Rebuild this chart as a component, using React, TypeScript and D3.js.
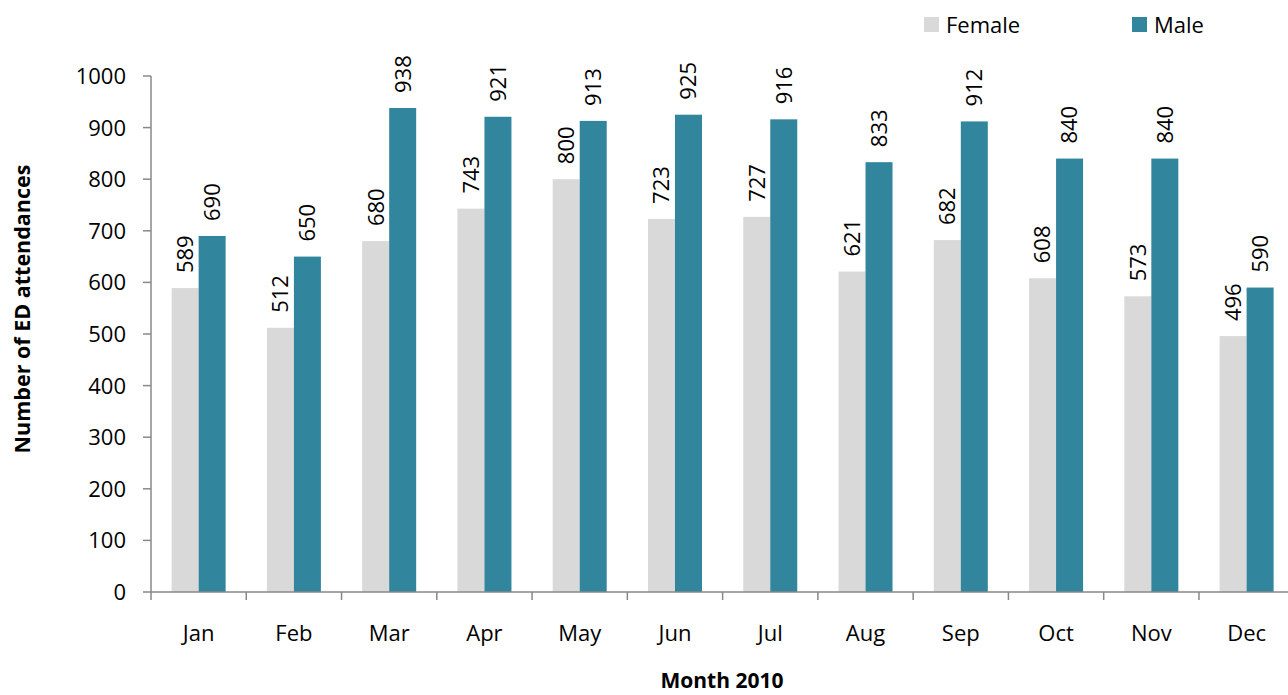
import React from "react";
import * as d3 from "d3";

const months = ["Jan", "Feb", "Mar", "Apr", "May", "Jun", "Jul", "Aug", "Sep", "Oct", "Nov", "Dec"];
const female = [589, 512, 680, 743, 800, 723, 727, 621, 682, 608, 573, 496];
const male = [690, 650, 938, 921, 913, 925, 916, 833, 912, 840, 840, 590];
const seriesNames = ["Female", "Male"];
const seriesColors = ["#D9D9D9", "#31859C"];
const yTicks = [0, 100, 200, 300, 400, 500, 600, 700, 800, 900, 1000];

const W = 1288;
const H = 695;
const left = 151;
const bandW = 95.27;
const top = 76;
const bottom = 592;
const FONT = "'Open Sans', sans-serif";

export default function App() {
  const x = d3.scaleBand<string>().domain(months).range([left, left + bandW * months.length]).padding(0);
  const bw = x.bandwidth();
  const inner = d3.scaleBand<string>().domain(seriesNames).range([bw / 2 - 27, bw / 2 + 27]).padding(0);
  const y = d3.scaleLinear().domain([0, 1000]).range([bottom, top]);
  const data = [female, male];
  const axisColor = "#888888";

  return (
    <div style={{ position: "absolute", left: 0, top: 0 }}>
      <svg width={W} height={H} style={{ display: "block", fontFamily: FONT }}>
        <rect x={0} y={0} width={W} height={H} fill="#ffffff" />
        {/* bars */}
        {seriesNames.map((s, si) =>
          months.map((m, i) => {
            const v = data[si][i];
            const bx = (x(m) as number) + (inner(s) as number);
            return (
              <rect key={s + m} x={bx} y={y(v)} width={inner.bandwidth()} height={bottom - y(v)} fill={seriesColors[si]} />
            );
          })
        )}
        {/* data labels */}
        {seriesNames.map((s, si) =>
          months.map((m, i) => {
            const v = data[si][i];
            const cx = (x(m) as number) + (inner(s) as number) + inner.bandwidth() / 2;
            const ty = y(v) - 15;
            return (
              <text
                key={"l" + s + m}
                transform={`translate(${cx},${ty}) rotate(-90)`}
                dy="0.36em"
                fontSize={22}
                fill="#000"
              >
                {v}
              </text>
            );
          })
        )}
        {/* y axis */}
        <line x1={left} x2={left} y1={top} y2={bottom} stroke={axisColor} strokeWidth={1.5} />
        {yTicks.map((t) => (
          <g key={"yt" + t}>
            <line x1={left - 8} x2={left} y1={y(t)} y2={y(t)} stroke={axisColor} strokeWidth={1.5} />
            <text x={126} y={y(t)} dy="0.36em" textAnchor="end" fontSize={22} fill="#000">
              {t}
            </text>
          </g>
        ))}
        {/* x axis */}
        <line x1={left} x2={W + 10} y1={bottom} y2={bottom} stroke={axisColor} strokeWidth={1.5} />
        {months.map((m) => (
          <g key={"xt" + m}>
            <line x1={x(m) as number} x2={x(m) as number} y1={bottom} y2={bottom + 8} stroke={axisColor} strokeWidth={1.5} />
            <text x={(x(m) as number) + bw / 2} y={641} textAnchor="middle" fontSize={22} fill="#000">
              {m}
            </text>
          </g>
        ))}
        {/* axis titles */}
        <text x={722} y={688} textAnchor="middle" fontSize={21} fontWeight="bold" fill="#000">
          Month 2010
        </text>
        <text transform={`translate(30,309) rotate(-90)`} textAnchor="middle" fontSize={21.5} fontWeight="bold" fill="#000">
          Number of ED attendances
        </text>
        {/* legend */}
        {seriesNames.map((s, si) => {
          const lx = si === 0 ? 924 : 1132;
          return (
            <g key={"lg" + s}>
              <rect x={lx} y={17} width={15} height={15} fill={seriesColors[si]} />
              <text x={lx + 22} y={33} fontSize={22} fill="#000">
                {s}
              </text>
            </g>
          );
        })}
      </svg>
    </div>
  );
}
